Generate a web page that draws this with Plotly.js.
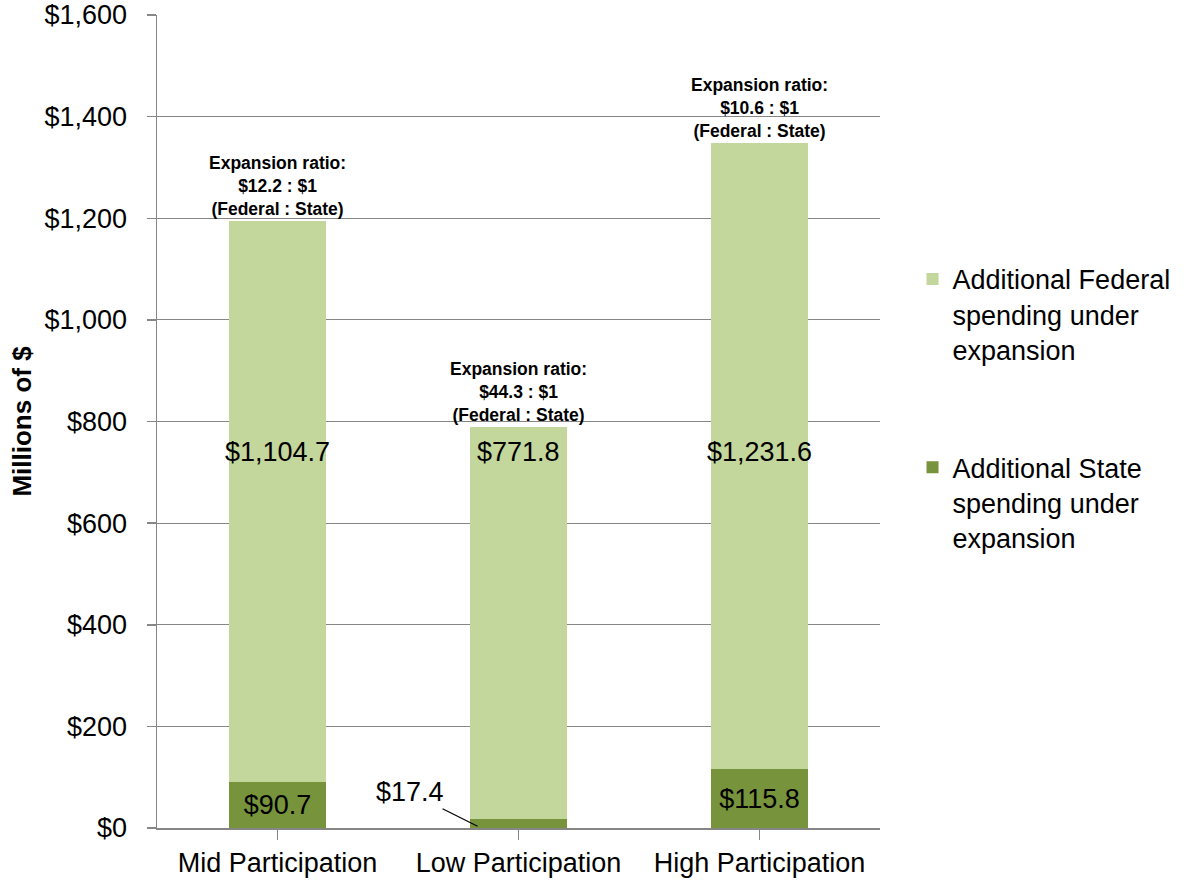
<!DOCTYPE html>
<html>
<head>
<meta charset="utf-8">
<script src="https://cdn.plot.ly/plotly-3.0.1.min.js"></script>
<style>html,body{margin:0;padding:0;background:#fff;}#chart{width:1193px;height:882px;}</style>
</head>
<body>
<div id="chart"></div>
<script>
const categories = ["Mid Participation", "Low Participation", "High Participation"];
const stateValues = [90.7, 17.4, 115.8];
const federalValues = [1104.7, 771.8, 1231.6];
const expansionRatios = [12.2, 44.3, 10.6];
const yTickValues = [0, 200, 400, 600, 800, 1000, 1200, 1400, 1600];
const federalName = "Additional Federal<br>spending under<br>expansion";
const stateName = "Additional State<br>spending under<br>expansion";

const FONT = "Liberation Sans, Arial, sans-serif";
const fmt = v => "$" + v.toLocaleString("en-US", {minimumFractionDigits: 1, maximumFractionDigits: 1});

const xIdx = categories.map((c, i) => i);

const stateTrace = {
  type: "bar", x: xIdx, y: stateValues, name: stateName, legendgroup: "s", legendrank: 2,
  marker: {color: "#77933C"}, width: 0.4,
  text: stateValues.map(v => v >= 50 ? fmt(v) : ""),
  textposition: "inside", insidetextanchor: "middle",
  textfont: {family: FONT, size: 27, color: "#000"},
  hoverinfo: "none"
};
const federalTrace = {
  type: "bar", x: xIdx, y: federalValues, name: federalName, legendgroup: "f", legendrank: 1,
  marker: {color: "#C3D69B"}, width: 0.4, hoverinfo: "none"
};

const annotations = [];
// federal value labels (placed at a common height as in the source)
federalValues.forEach((v, i) => {
  annotations.push({x: i, y: 740, text: fmt(v), showarrow: false,
    font: {family: FONT, size: 27, color: "#000"}, xanchor: "center", yanchor: "middle"});
});
// ratio labels above bars
expansionRatios.forEach((r, i) => {
  annotations.push({x: i, y: stateValues[i] + federalValues[i], yanchor: "bottom", yshift: 0,
    text: "<b>Expansion ratio:<br>$" + r.toFixed(1) + " : $1<br>(Federal : State)</b>",
    showarrow: false, font: {family: FONT, size: 17.5, color: "#000"}, align: "center"});
});
// small state label with leader line
stateValues.forEach((v, i) => {
  if (v < 50) {
    annotations.push({x: i - 0.17, y: v * 0.2, text: fmt(v), showarrow: true, arrowhead: 0,
      arrowwidth: 1.2, arrowcolor: "#000", ax: -68, ay: -34,
      font: {family: FONT, size: 27, color: "#000"}});
  }
});

const layout = {
  width: 1193, height: 882,
  margin: {l: 157, r: 313, t: 15, b: 54},
  paper_bgcolor: "#fff", plot_bgcolor: "#fff",
  barmode: "stack",
  font: {family: FONT, size: 27, color: "#000"},
  showlegend: true,
  legend: {x: 1.045, y: 0.705, xanchor: "left", yanchor: "top", traceorder: "grouped",
    valign: "top", tracegroupgap: 80, font: {family: FONT, size: 27, color: "#000"}, itemwidth: 30},
  xaxis: {
    range: [-0.5, 2.5], tickmode: "array", tickvals: xIdx, ticktext: categories,
    tickson: "boundaries", ticks: "outside", ticklen: 10, tickcolor: "#868686", tickwidth: 1.5,
    showline: true, linecolor: "#868686", linewidth: 1.5, showgrid: false, zeroline: false,
    tickfont: {family: FONT, size: 27, color: "#000"}, ticklabelstandoff: 0
  },
  yaxis: {
    range: [0, 1600], tickmode: "array", tickvals: yTickValues,
    ticktext: yTickValues.map(v => "$" + v.toLocaleString("en-US")),
    ticks: "outside", ticklen: 9, tickcolor: "#868686", tickwidth: 1.5,
    showline: true, linecolor: "#868686", linewidth: 1.5,
    showgrid: true, gridcolor: "#868686", gridwidth: 1.2, zeroline: false,
    tickfont: {family: FONT, size: 27, color: "#000"}, ticklabelstandoff: 14,
    title: {text: "<b>Millions of $</b>", font: {family: FONT, size: 26, color: "#000"}, standoff: 5}
  },
  annotations: annotations
};

Plotly.newPlot("chart", [stateTrace, federalTrace], layout, {displayModeBar: false, staticPlot: true});
</script>
</body>
</html>
